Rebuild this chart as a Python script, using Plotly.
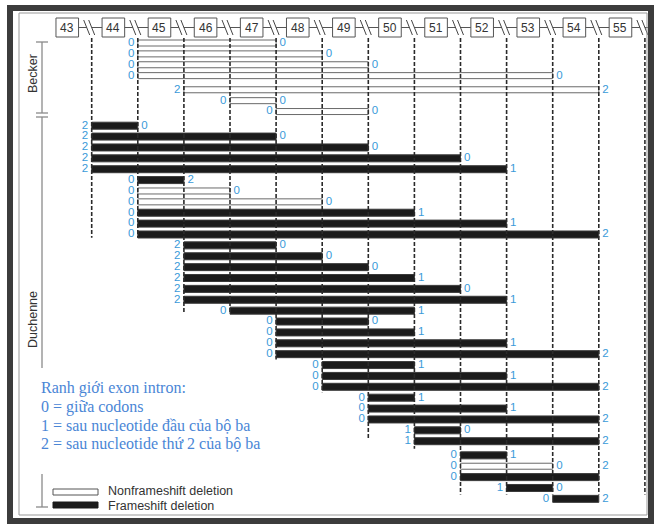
import plotly.graph_objects as go

# ---------------- data ----------------
exons = list(range(43, 56))
group = ["Becker"] * 7 + ["Duchenne"] * 35
first_exon = [45, 45, 45, 45, 46, 47, 48,
              44, 44, 44, 44, 44,
              45, 45, 45, 45, 45, 45,
              46, 46, 46, 46, 46, 46,
              47,
              48, 48, 48, 48,
              49, 49, 49,
              50, 50, 50,
              51, 51,
              52, 52, 52,
              53, 54]
last_exon = [47, 48, 49, 53, 54, 47, 49,
             44, 47, 49, 51, 52,
             45, 46, 48, 50, 52, 54,
             47, 48, 49, 50, 51, 52,
             50,
             49, 50, 52, 54,
             50, 52, 54,
             50, 52, 54,
             51, 54,
             52, 53, 54,
             53, 54]
frameshift = [0, 0, 0, 0, 0, 0, 0,
              1, 1, 1, 1, 1,
              1, 0, 0, 1, 1, 1,
              1, 1, 1, 1, 1, 1,
              1,
              1, 1, 1, 1,
              1, 1, 1,
              1, 1, 1,
              1, 1,
              1, 0, 1,
              1, 1]
left_code = ["0", "0", "0", "0", "2", "0", "0",
             "2", "2", "2", "2", "2",
             "0", "0", "0", "0", "0", "0",
             "2", "2", "2", "2", "2", "2",
             "0",
             "0", "0", "0", "0",
             "0", "0", "0",
             "0", "0", "0",
             "1", "1",
             "0", "0", "0",
             "1", "0"]
right_code = ["0", "0", "0", "0", "2", "0", "0",
              "0", "0", "0", "0", "1",
              "2", "0", "0", "1", "1", "2",
              "0", "0", "0", "1", "0", "1",
              "1",
              "0", "1", "1", "2",
              "1", "1", "2",
              "1", "1", "2",
              "0", "2",
              "1", "0", "2",
              "0", "2"]
# row down to which each exon-boundary dashed line reaches (boundaries after exon 43..55)
line_reach_row = [18.9, 18.9, 25.9, 25.9, 30.1, 33.1, 37.5, 38.3, 42.5, 42.5, 42.5, 42.5, 42.5]

legend_labels = ["Nonframeshift deletion", "Frameshift deletion"]
note_lines = ["Ranh giới exon intron:",
              "0 = giữa codons",
              "1 = sau nucleotide đầu của bộ ba",
              "2 = sau nucleotide thứ 2 của bộ ba"]

# ---------------- geometry helpers ----------------
W, H = 654, 524
XB0, XU = 91.7, 46.1      # pixel of first boundary, pixels per exon
Y1, YU = 43.0, 10.88      # pixel of row 1, pixels per row
GAP = 0.3
gap_after = [4, 7, 37]


def ypos(r):
    return r + GAP * sum(1 for g in gap_after if r > g)


def px_x(p):
    return (p - XB0) / XU


def px_y(p):
    return 1 + (p - Y1) / YU


def pap_x(p):
    return p / W


def pap_y(p):
    return 1 - p / H


rows = list(range(1, len(first_exon) + 1))
ys = [ypos(r) for r in rows]
starts = [f - 44 for f in first_exon]
ends = [l - 43 for l in last_exon]

BLUE = "#3a9ad9"
SANS = "Liberation Sans, Arial"
fig = go.Figure()

# bars
for fs, col, lcol, hpx in [(0, "white", "#6a6a6a", 6), (1, "#1b1b1b", "#3a3a3a", 7)]:
    idx = [i for i in range(len(rows)) if frameshift[i] == fs]
    fig.add_trace(go.Bar(
        orientation="h",
        y=[ys[i] for i in idx],
        x=[ends[i] - starts[i] for i in idx],
        base=[starts[i] for i in idx],
        width=hpx / YU,
        marker=dict(color=col, line=dict(color=lcol, width=1)),
        hoverinfo="skip",
    ))

# dashed boundary lines
lx, ly = [], []
for b, reach in enumerate(line_reach_row):
    lx += [b, b, None]
    ly += [px_y(38), reach, None]
fig.add_trace(go.Scatter(x=lx, y=ly, mode="lines",
                         line=dict(color="#2a2a2a", width=1.6, dash="4px,2px"),
                         hoverinfo="skip"))

# boundary codes
right_y = list(ys)
right_y[39] = ys[38]   # in the original the code of this row is printed one row higher
for xs_, yy_, tx_, pos_ in [(starts, ys, left_code, "middle left"),
                            (ends, right_y, right_code, "middle right")]:
    fig.add_trace(go.Scatter(x=xs_, y=yy_, mode="markers+text", text=tx_,
                             textposition=pos_,
                             marker=dict(size=4, color="rgba(0,0,0,0)"),
                             textfont=dict(family=SANS, size=11.5, color=BLUE),
                             hoverinfo="skip"))

shapes = []
annotations = []

# exon header boxes
hy0, hy1, hym = 18, 37, 27.5
for n in exons:
    c = n - 43.5 - 0.03
    shapes.append(dict(type="rect", xref="x", yref="paper",
                       x0=c - 0.245, x1=c + 0.245, y0=pap_y(hy1), y1=pap_y(hy0),
                       line=dict(color="#555", width=1), fillcolor="white", layer="above"))
    annotations.append(dict(x=c, y=pap_y(hym), xref="x", yref="paper", text=str(n),
                            xanchor="center", yanchor="middle",
                            showarrow=False, font=dict(family=SANS, size=12, color="#333")))
# break symbols at boundaries
for b in range(len(exons)):
    right_end = b + 0.225 if b < len(exons) - 1 else px_x(649)
    for (xa, xb) in [(b - 0.285, b - 5 / XU), (b, right_end)]:
        shapes.append(dict(type="line", xref="x", yref="paper", x0=xa, x1=xb,
                           y0=pap_y(hym), y1=pap_y(hym), line=dict(color="#555", width=1)))
    for off in (-8, -3):
        shapes.append(dict(type="line", xref="x", yref="paper",
                           x0=b + off / XU, x1=b + (off + 6) / XU,
                           y0=pap_y(20), y1=pap_y(35), line=dict(color="#444", width=1)))


def pline(x0, y0, x1, y1, color="#8a8a8a", width=1.3):
    shapes.append(dict(type="line", xref="paper", yref="paper",
                       x0=pap_x(x0), x1=pap_x(x1), y0=pap_y(y0), y1=pap_y(y1),
                       line=dict(color=color, width=width)))


# group brackets
pline(42, 42, 42, 113)
pline(36, 42, 48, 42)
pline(36, 113, 48, 113)
pline(36, 117, 48, 117)
pline(42, 117, 42, 368)
pline(42, 474, 42, 507)
pline(36, 507, 48, 507)
for lab, yy in [("Becker", 74), ("Duchenne", 320)]:
    annotations.append(dict(x=pap_x(33), y=pap_y(yy), xref="paper", yref="paper", text=lab,
                            textangle=-90, showarrow=False, xanchor="center", yanchor="middle",
                            font=dict(family=SANS, size=12.5, color="#333")))

# legend
shapes.append(dict(type="rect", xref="paper", yref="paper", x0=pap_x(53), x1=pap_x(98),
                   y0=pap_y(495), y1=pap_y(489), line=dict(color="#555", width=1), fillcolor="white"))
shapes.append(dict(type="rect", xref="paper", yref="paper", x0=pap_x(53), x1=pap_x(98),
                   y0=pap_y(508), y1=pap_y(502), line=dict(color="#1b1b1b", width=1), fillcolor="#1b1b1b"))
for lab, yy in zip(legend_labels, [491, 505.5]):
    annotations.append(dict(x=pap_x(106), y=pap_y(yy), xref="paper", yref="paper", text=lab,
                            xanchor="left", yanchor="middle", showarrow=False,
                            font=dict(family=SANS, size=12.5, color="#333")))

# explanatory note
for i, t in enumerate(note_lines):
    annotations.append(dict(x=pap_x(39), y=pap_y(388 + 18.5 * i), xref="paper", yref="paper", text=t,
                            xanchor="left", yanchor="middle", showarrow=False,
                            font=dict(family="Liberation Serif, Times New Roman", size=16, color="#4a86d6")))

# frame
shapes.append(dict(type="rect", xref="paper", yref="paper", x0=pap_x(10), x1=pap_x(651),
                   y0=pap_y(521), y1=pap_y(8), line=dict(color="#3c3c3c", width=6)))
shapes.append(dict(type="rect", xref="paper", yref="paper", x0=pap_x(19), x1=pap_x(647),
                   y0=pap_y(515), y1=pap_y(13), line=dict(color="#999", width=1)))

fig.update_layout(
    width=W, height=H, margin=dict(l=0, r=0, t=0, b=0),
    paper_bgcolor="white", plot_bgcolor="white",
    showlegend=False, barmode="overlay",
    xaxis=dict(range=[px_x(0), px_x(W)], visible=False, fixedrange=True),
    yaxis=dict(range=[px_y(H), px_y(0)], visible=False, fixedrange=True),
    shapes=shapes, annotations=annotations,
)
fig.write_html("out.html")
